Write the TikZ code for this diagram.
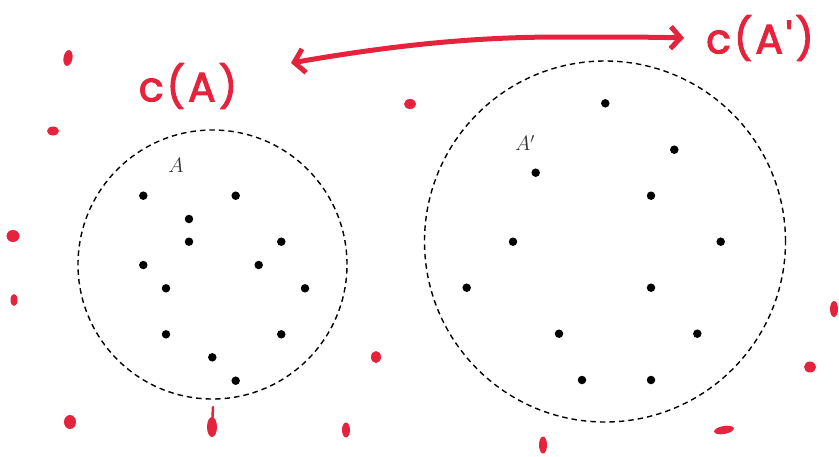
\documentclass[tikz,border=0pt]{standalone}
\usepackage{fontspec}
\newfontfamily\handfont{Poppins}[LetterSpace=7,FakeBold=2.5]
\usetikzlibrary{arrows.meta}
\definecolor{ink}{RGB}{230,35,60}
\begin{document}
\begin{tikzpicture}[x=1pt,y=-1pt,
  dot/.style={circle,fill=black,inner sep=0pt,minimum size=8.5pt},
  setcircle/.style={circle,draw,inner sep=0pt,line width=1.4pt,dash pattern=on 5.5pt off 4pt},
  hand/.style={text=ink,font=\handfont\fontsize{41}{46}\selectfont,inner sep=0pt},
  lbl/.style={font=\fontsize{21}{25}\selectfont,text=black!80,inner sep=0pt},
  blob/.style={fill=ink}]
\useasboundingbox (0,0) rectangle (839,456);
% set circles
\node[setcircle,minimum size=269pt] (SA) at (212.5,264.5) {};
\node[setcircle,minimum size=361pt] (SB) at (605,241.5) {};
% labels
\node[lbl] (LA) at (176,165) {$A$};
\node[lbl] (LB) at (525,143) {$A'$};
% dots of A
\foreach \i/\x/\y in {1/143.3/195.7,2/235.7/195.7,3/189/219,4/189/241.7,5/281.3/241.7,6/143.3/265,7/258.7/265,8/166/288.3,9/305/288.3,10/166/334.3,11/281.3/334.3,12/212.3/357.3,13/235.7/380.7}
  \node[dot] (a\i) at (\x,\y) {};
% dots of A'
\foreach \i/\x/\y in {1/605.3/103.3,2/674.3/149.7,3/535.7/172.7,4/651/195.7,5/513/241.7,6/720.7/241.7,7/466.7/287.7,8/651/287.7,9/559/333.7,10/697.3/333.7,11/582/380,12/651/380}
  \node[dot] (b\i) at (\x,\y) {};
% handwritten labels
\node[hand] (cA) at (188,86) {c(A)};
\node[hand] (cB) at (760,38) {c(A')};
\coordinate (al) at (291,63);
\coordinate (ar) at (684,38);
\draw[ink,line width=5pt,line cap=round,line join=round,
  {Straight Barb[length=10pt,width=24pt]}-{Straight Barb[length=10pt,width=22pt]}]
  (al) .. controls (400,44) and (480,37) .. (560,37) .. controls (620,37) and (650,37) .. (ar);
% red specks
\fill[blob] (68,58) ellipse [x radius=4.5pt,y radius=8pt,rotate=-10];
\fill[blob] (53,131) ellipse [x radius=6pt,y radius=4.5pt];
\fill[blob] (13,236) ellipse [x radius=6.5pt,y radius=6pt];
\fill[blob] (14,300) ellipse [x radius=3.5pt,y radius=6pt];
\fill[blob] (70,422) ellipse [x radius=6pt,y radius=7pt];
\fill[blob] (410,104) ellipse [x radius=6pt,y radius=5pt];
\fill[blob] (376,357) ellipse [x radius=5pt,y radius=6pt];
\fill[blob] (212,427) ellipse [x radius=5pt,y radius=10pt];
\draw[ink,line width=2.5pt,line cap=round] (212,427) -- (213,407);
\fill[blob] (346,430) ellipse [x radius=4pt,y radius=7.5pt];
\fill[blob] (543,445) ellipse [x radius=4pt,y radius=8.5pt];
\fill[blob] (724,430) ellipse [x radius=10pt,y radius=4pt,rotate=10];
\fill[blob] (810,367) ellipse [x radius=6pt,y radius=5.5pt];
\fill[blob] (834,309) ellipse [x radius=4pt,y radius=8pt];
\end{tikzpicture}
\end{document}
